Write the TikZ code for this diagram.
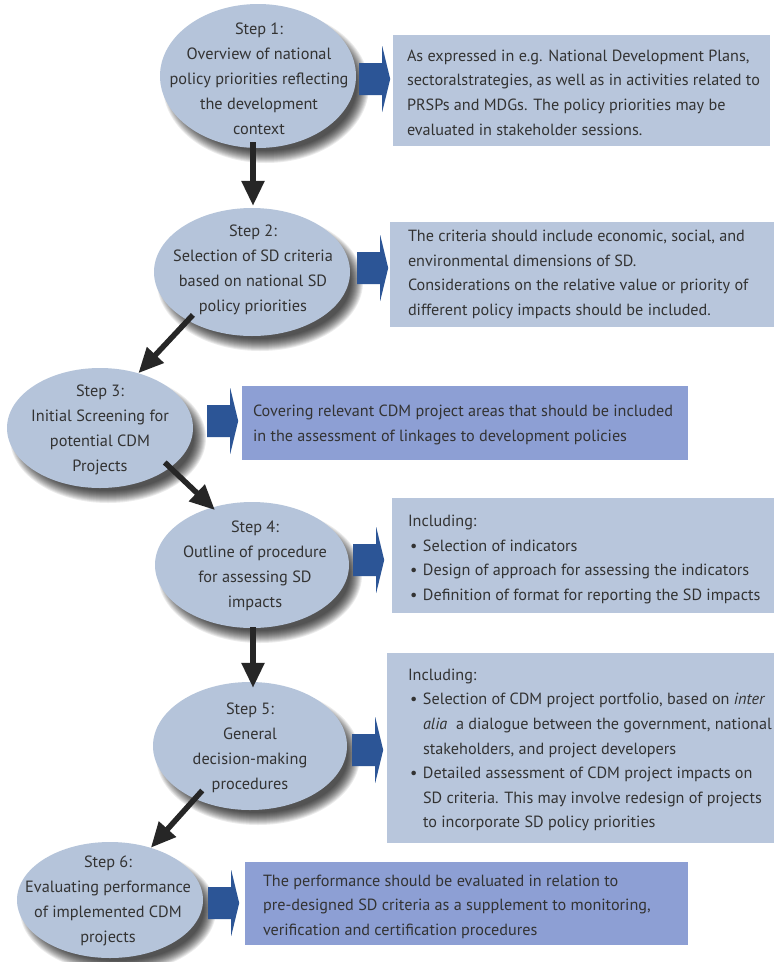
\documentclass[tikz,border=0pt]{standalone}
\usepackage{fontspec}
\setmainfont{PT Sans}
\usetikzlibrary{shapes.geometric,arrows.meta,calc}
\definecolor{ellfill}{HTML}{B5C4DA}
\definecolor{boxlight}{HTML}{B8C6DC}
\definecolor{boxdark}{HTML}{8D9FD4}
\definecolor{bluearr}{HTML}{2C5596}
\definecolor{txt}{HTML}{333333}
\definecolor{darkarr}{HTML}{262626}
\pgfdeclarelayer{bg}
\pgfsetlayers{bg,main}
\newcommand{\bitem}{\makebox[15pt][l]{\hspace{2pt}•}}
\newcommand{\bcont}{\hspace*{15pt}}
\tikzset{
  stepell/.style={ellipse, fill=ellfill, inner sep=0pt},
  steptext/.style={align=center, text=txt, inner sep=0pt, font=\fontsize{16.3}{25}\selectfont},
  infobox/.style={rectangle, inner sep=0pt},
  boxtext/.style={align=left, text=txt, inner sep=0pt, anchor=west, font=\fontsize{16.2}{24.6}\selectfont},
  darrow/.style={draw=darkarr, line width=5.5pt, -{Triangle[length=25pt,width=22pt]}},
  blockarr/.style={fill=bluearr}
}
\begin{document}
\begin{tikzpicture}[x=1pt,y=-1pt]
\useasboundingbox (0,0) rectangle (774,962);

% ellipses
\node[stepell, minimum width=196pt, minimum height=144pt] (e1) at (258,76) {};
\node[stepell, minimum width=196pt, minimum height=128pt] (e2) at (252,272) {};
\node[stepell, minimum width=186pt, minimum height=120pt] (e3) at (100,428) {};
\node[stepell, minimum width=194pt, minimum height=126pt] (e4) at (252,565) {};
\node[stepell, minimum width=194pt, minimum height=128pt] (e5) at (250,746) {};
\node[stepell, minimum width=186pt, minimum height=116pt] (e6) at (110,900) {};

% background and shadows
\begin{pgfonlayer}{bg}
\fill[white] (0,0) rectangle (774,962);
\foreach \e/\rx/\ry in {e1/98/72, e2/98/64, e3/93/60, e4/97/63, e5/97/64, e6/93/58} {
  \foreach \i in {0,...,12} {
    \fill[black, opacity=0.08] ($(\e.center)+(8,10)$) ellipse [x radius={(\rx+5-\i)*1pt}, y radius={(\ry+5-\i)*1pt}];
  }
}
\end{pgfonlayer}

% step texts
\node[steptext] (s1) at ($(e1.center)+(1,3)$) {Step 1:\\Overview of national\\policy priorities reflecting\\the development\\context};
\node[steptext] (s2) at ($(e2.center)+(1,-2)$) {Step 2:\\Selection of SD criteria\\based on national SD\\policy priorities};
\node[steptext] (s3) at ($(e3.center)+(0,2)$) {Step 3:\\Initial Screening for\\potential CDM\\Projects};
\node[steptext] (s4) at ($(e4.center)+(3,1)$) {Step 4:\\Outline of procedure\\for assessing SD\\impacts};
\node[steptext] (s5) at ($(e5.center)+(0,2)$) {Step 5:\\General\\decision-making\\procedures};
\node[steptext] (s6) at ($(e6.center)+(-2,1)$) {Step 6:\\Evaluating performance\\of implemented CDM\\projects};

% boxes
\node[infobox, fill=boxlight, minimum width=377pt, minimum height=111pt] (b1) at (581.5,90.5) {};
\node[infobox, fill=boxlight, minimum width=384pt, minimum height=105pt] (b2) at (582,274.5) {};
\node[infobox, fill=boxdark, minimum width=446pt, minimum height=74pt] (b3) at (465,423) {};
\node[infobox, fill=boxlight, minimum width=382pt, minimum height=115pt] (b4) at (583,555.5) {};
\node[infobox, fill=boxlight, minimum width=387pt, minimum height=190pt] (b5) at (580.5,748) {};
\node[infobox, fill=boxdark, minimum width=443pt, minimum height=83pt] (b6) at (466.5,903.5) {};

\node[boxtext] (bt1) at ($(b1.west)+(14,2)$) {As expressed in e.g. National Development Plans,\\sectoralstrategies, as well as in activities related to\\PRSPs and MDGs. The policy priorities may be\\evaluated in stakeholder sessions.};
\node[boxtext] (bt2) at ($(b2.west)+(18,0)$) {The criteria should include economic, social, and\\environmental dimensions of SD.\\Considerations on the relative value or priority of\\different policy impacts should be included.};
\node[boxtext] (bt3) at ($(b3.west)+(11,2)$) {Covering relevant CDM project areas that should be included\\in the assessment of linkages to development policies};
\node[boxtext] (bt4) at ($(b4.west)+(16,4)$) {Including:\\\bitem Selection of indicators\\\bitem Design of approach for assessing the indicators\\\bitem Definition of format for reporting the SD impacts};
\node[boxtext] (bt5) at ($(b5.west)+(21,2)$) {Including:\\\bitem Selection of CDM project portfolio, based on \textit{inter}\\\bcont\textit{alia}\ \ a dialogue between the government, national\\\bcont stakeholders, and project developers\\\bitem Detailed assessment of CDM project impacts on\\\bcont SD criteria. This may involve redesign of projects\\\bcont to incorporate SD policy priorities};
\node[boxtext] (bt6) at ($(b6.west)+(18,3)$) {The performance should be evaluated in relation to\\pre-designed SD criteria as a supplement to monitoring,\\verification and certification procedures};

% blue block arrows
\coordinate (a1) at ($(e1.east)+(3,3)$);
\coordinate (a2) at ($(e2.east)+(7,-4)$);
\coordinate (a3) at ($(e3.east)+(14,-7)$);
\coordinate (a4) at ($(e4.east)+(4,-5)$);
\coordinate (a5) at ($(e5.east)+(5,4)$);
\coordinate (a6) at ($(e6.east)+(5,3)$);
\foreach \a in {a1,a2,a3,a4,a5,a6} {
  \fill[blockarr] (\a) ++(0,-16) -- ++(23,0) -- ++(0,-17) -- ++(8,33) -- ++(-8,33) -- ++(0,-17) -- ++(-23,0) -- cycle;
}

% dark arrows
\draw[darrow] ($(e1.south)+(-5,-6)$) -- ($(e2.north)+(1,-2)$);
\draw[darrow] ($(e2.center)!0.9!(e2.216)$) -- (e3.55);
\draw[darrow] ($(e3.center)!0.9!(e3.332)$) -- ($(e4.center)!0.95!(e4.124)$);
\draw[darrow] ($(e4.south)+(1,-1)$) -- ($(e5.north)+(3,6)$);
\draw[darrow] ($(e5.center)!0.85!(e5.223)$) -- (e6.52);
\end{tikzpicture}
\end{document}
